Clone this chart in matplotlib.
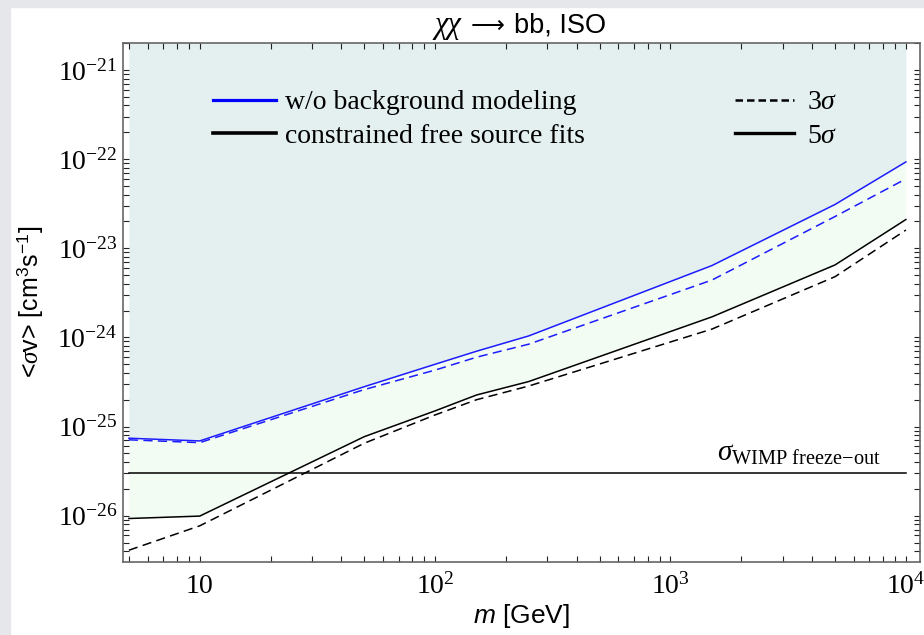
import numpy as np
import matplotlib
matplotlib.use("Agg")
import matplotlib.pyplot as plt
from matplotlib.lines import Line2D
from matplotlib.patches import Rectangle
from matplotlib.ticker import FixedLocator, FuncFormatter, NullFormatter
from matplotlib.offsetbox import TextArea, HPacker, AnchoredOffsetbox

plt.rcParams['font.family'] = ['Liberation Sans', 'DejaVu Sans']
plt.rcParams['mathtext.fontset'] = 'custom'
plt.rcParams['mathtext.rm'] = 'Liberation Serif'
plt.rcParams['mathtext.it'] = 'Liberation Serif:italic'
plt.rcParams['mathtext.sf'] = 'Liberation Sans'
plt.rcParams['mathtext.cal'] = 'Liberation Sans:italic'
plt.rcParams['mathtext.fallback'] = 'stix'

# ---- data ----
mass = [5, 10, 50, 100, 150, 250, 1500, 5000, 10000]
blue_5sigma = [7.4e-26, 6.9e-26, 2.8e-25, 5.0e-25, 7.0e-25, 1.04e-24, 6.4e-24, 3.1e-23, 9.3e-23]
blue_3sigma = [7.1e-26, 6.6e-26, 2.6e-25, 4.3e-25, 6.0e-25, 8.4e-25, 4.4e-24, 2.27e-23, 6.0e-23]
black_5sigma = [9.3e-27, 9.9e-27, 7.7e-26, 1.5e-25, 2.26e-25, 3.2e-25, 1.7e-24, 6.5e-24, 2.1e-23]
black_3sigma = [4.1e-27, 7.7e-27, 6.5e-26, 1.35e-25, 2.0e-25, 2.85e-25, 1.24e-24, 4.8e-24, 1.6e-23]
freeze_out = 3.0e-26
x_major = [10, 100, 1000, 10000]
x_major_labels = ['10', '10^{2}', '10^{3}', '10^{4}']
y_major = [1e-26, 1e-25, 1e-24, 1e-23, 1e-22, 1e-21]
y_major_labels = ['10^{-26}', '10^{-25}', '10^{-24}', '10^{-23}', '10^{-22}', '10^{-21}']

fig = plt.figure(figsize=(9.24, 6.35), dpi=100)
fig.patches.append(Rectangle((0, 0), 10/924, 1, transform=fig.transFigure,
                             color='#e6e7ea', zorder=-10))
fig.patches.append(Rectangle((0, 1-7/635), 1, 7/635, transform=fig.transFigure,
                             color='#e6e7ea', zorder=-10))
ax = fig.add_axes([123/924, 1-561.7/635, (920-123)/924, (561.7-42.7)/635])
ax.set_xscale('log')
ax.set_yscale('log')
ax.set_xlim(10**0.674, 10**4.06)
ax.set_ylim(10**-26.516, 10**-20.694)

top = 1e-19
ax.fill_between(mass, blue_5sigma, top, color='#e4f0f0', lw=0, zorder=1)
ax.fill_between(mass, black_5sigma, blue_5sigma, color='#f2fcf2', lw=0, zorder=1)

blue = '#1c1cff'
ax.plot(mass, blue_5sigma, color=blue, lw=1.1, zorder=3)
ax.plot(mass, blue_3sigma, color=blue, lw=1.1, ls=(0, (6, 3.5)), zorder=3)
ax.plot(mass, black_5sigma, color='black', lw=1.1, zorder=3)
ax.plot(mass, black_3sigma, color='black', lw=1.1, ls=(0, (6, 3.5)), zorder=3)
ax.plot([mass[0], mass[-1]], [freeze_out, freeze_out], color='black', lw=1.1, zorder=3)

ax.text(7800, freeze_out*1.17, r'$\sigma_{\mathrm{WIMP\ freeze{-}out}}$',
        ha='right', va='bottom', fontsize=21)

# ticks
ax.xaxis.set_major_locator(FixedLocator(x_major))
ax.xaxis.set_major_formatter(FuncFormatter(
    lambda v, p: '$\\mathrm{' + x_major_labels[x_major.index(v)] + '}$' if v in x_major else ''))
xminor = [m*10**e for e in range(0, 4) for m in range(2, 10)]
ax.xaxis.set_minor_locator(FixedLocator(xminor))
ax.xaxis.set_minor_formatter(NullFormatter())
ax.yaxis.set_major_locator(FixedLocator(y_major))
ax.yaxis.set_major_formatter(FuncFormatter(
    lambda v, p: '$\\mathrm{' + y_major_labels[int(round(np.log10(v))) + 26] + '}$'))
yminor = [m*10.0**e for e in range(-27, -20) for m in range(2, 10)]
ax.yaxis.set_minor_locator(FixedLocator(yminor))
ax.yaxis.set_minor_formatter(NullFormatter())
ax.tick_params(which='both', direction='in', top=True, right=True,
               length=4, width=0.8, labelsize=20, color='#222222')
ax.tick_params(axis='x', pad=8)
ax.tick_params(axis='y', pad=4)
for s in ax.spines.values():
    s.set_color('#666666')
    s.set_linewidth(1.2)

ax.set_xlabel(r'$\mathcal{m}$ [GeV]', fontsize=19, labelpad=2)
ax.set_ylabel(r'<$\sigma$v> [cm$^{\mathsf{3}}$s$^{\mathsf{-1}}$]', fontsize=18)
ax.yaxis.set_label_coords(-0.0979, 0.5)

# title
t1 = TextArea('χχ', textprops=dict(family='Liberation Serif', style='italic', size=22))
t2 = TextArea('⟶', textprops=dict(family='DejaVu Sans', size=17))
t3 = TextArea('bb, ISO', textprops=dict(family='Liberation Sans', size=19.5))
title_box = HPacker(children=[t1, t2, t3], align='baseline', pad=0, sep=7)
fig.add_artist(AnchoredOffsetbox(loc='lower center', child=title_box,
                                 bbox_to_anchor=(520/924, 1-40/635),
                                 bbox_transform=fig.transFigure, frameon=False,
                                 pad=0, borderpad=0))

# legends
fs_leg = 20
h1 = [Line2D([], [], color='blue', lw=2.3), Line2D([], [], color='black', lw=2.6)]
leg1 = ax.legend(h1, ['w/o background modeling', 'constrained free source fits'],
                 loc='upper left', bbox_to_anchor=(213/924, 1-90/635),
                 bbox_transform=fig.transFigure, frameon=False,
                 prop={'family': 'Liberation Serif', 'size': fs_leg},
                 handlelength=2.27, handletextpad=0.32, labelspacing=0.28,
                 borderpad=0, borderaxespad=0)
ax.add_artist(leg1)
h2 = [Line2D([], [], color='black', lw=1.8, ls=(0, (3, 1.6))),
      Line2D([], [], color='black', lw=2.4)]
ax.legend(h2, [r'3$\sigma$', r'5$\sigma$'],
          loc='upper left', bbox_to_anchor=(735/924, 1-90/635),
          bbox_transform=fig.transFigure, frameon=False,
          prop={'family': 'Liberation Serif', 'size': fs_leg},
          handlelength=2.12, handletextpad=0.47, labelspacing=0.28,
          borderpad=0, borderaxespad=0)

fig.savefig('out.png', dpi=100)
